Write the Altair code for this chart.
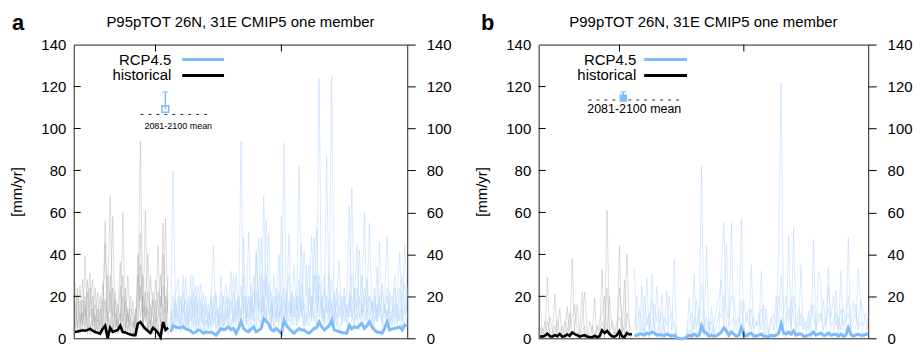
import altair as alt
import pandas as pd

# ---------------- data ----------------
YEARS_HIST = list(range(1968, 2006))
YEARS_RCP = list(range(2006, 2101))
X_TICKS = [2000, 2050, 2100]
TOP_TICKS = [2000, 2050]
Y_TICKS = [0, 20, 40, 60, 80, 100, 120, 140]
INNER_Y_TICKS = [20, 40, 60, 80, 100, 120]

# Panel a: P95pTOT, historical members (1968-2005)
A_HIST_MEMBERS = [
    [27, 5, 12, 3, 39, 8, 2, 14, 6, 22, 1, 9, 56, 3, 10, 4, 18, 2, 7, 60,
     5, 12, 3, 1, 8, 20, 94, 6, 15, 3, 9, 2, 18, 5, 2, 55, 8, 4],
    [10, 24, 4, 18, 6, 15, 31, 3, 11, 2, 14, 5, 8, 20, 68, 7, 3, 12, 36, 9,
     2, 30, 6, 18, 3, 11, 25, 8, 61, 4, 30, 12, 3, 44, 6, 10, 57, 2],
    [4, 12, 25, 7, 20, 2, 16, 28, 3, 9, 6, 18, 2, 30, 12, 58, 5, 9, 3, 20,
     14, 4, 10, 2, 14, 5, 35, 12, 18, 40, 4, 22, 8, 10, 30, 6, 20, 12],
    [18, 8, 3, 28, 10, 22, 5, 9, 24, 4, 8, 26, 14, 2, 30, 10, 22, 6, 12, 4,
     24, 8, 14, 12, 2, 30, 10, 20, 8, 22, 12, 6, 28, 14, 8, 25, 12, 30],
    [2, 20, 8, 12, 4, 28, 10, 20, 2, 14, 3, 10, 45, 8, 22, 3, 12, 4, 25, 8,
     18, 2, 20, 5, 10, 16, 50, 4, 22, 2, 16, 10, 4, 22, 15, 40, 5, 18],
    [12, 3, 18, 6, 15, 4, 24, 6, 16, 8, 20, 4, 18, 10, 5, 24, 6, 16, 8, 30,
     3, 14, 2, 8, 4, 40, 18, 30, 10, 14, 6, 18, 12, 2, 20, 14, 4, 22],
]
A_HIST_MEAN = [3.0, 3.2, 3.5, 3.8, 3.6, 4.0, 4.5, 3.6, 3.0, 2.6,
               2.2, 4.5, 6.0, 0.0, 5.0, 3.0, 3.5, 4.0, 6.0, 3.0,
               2.8, 2.2, 1.8, 1.5, 1.5, 7.0, 7.8, 6.0, 4.5, 3.5,
               2.5, 5.0, 4.0, 2.5, 0.5, 7.8, 4.0, 5.0]

# Panel a: RCP4.5 members (2006-2100)
A_RCP_MEMBERS = [
    [5, 80, 8, 12, 3, 30, 6, 10, 2, 18, 4, 12, 26, 3, 9, 5, 14, 44, 6, 2,
     12, 4, 20, 8, 3, 14, 6, 10, 94, 8, 12, 4, 20, 6, 40, 10, 6, 68, 12, 5,
     18, 3, 10, 22, 6, 93, 10, 4, 16, 6, 10, 82, 14, 3, 12, 6, 20, 8, 10, 124,
     8, 14, 4, 20, 125, 6, 12, 3, 10, 20, 6, 14, 72, 8, 12, 4, 18, 60, 6, 10,
     4, 16, 8, 46, 10, 3, 14, 6, 12, 30, 6, 12, 4, 45, 20],
    [14, 6, 22, 28, 8, 4, 29, 6, 30, 5, 20, 8, 4, 22, 10, 16, 4, 12, 20, 6,
     30, 10, 4, 18, 32, 6, 18, 12, 8, 48, 6, 51, 10, 14, 6, 22, 48, 10, 57, 14,
     6, 30, 12, 6, 58, 18, 8, 50, 10, 20, 6, 16, 45, 10, 6, 18, 49, 12, 6, 30,
     18, 6, 87, 10, 18, 8, 20, 37, 6, 14, 20, 63, 8, 14, 45, 10, 6, 20, 12, 55,
     10, 6, 34, 12, 8, 20, 49, 10, 6, 14, 20, 41, 10, 6, 22],
    [8, 20, 4, 14, 18, 6, 10, 20, 8, 30, 10, 25, 14, 6, 16, 4, 20, 8, 10, 14,
     6, 18, 26, 10, 20, 30, 8, 14, 25, 12, 20, 10, 26, 8, 42, 16, 12, 28, 20, 50,
     10, 20, 8, 40, 14, 24, 8, 18, 12, 35, 14, 28, 10, 42, 20, 35, 10, 48, 18, 26,
     12, 30, 14, 8, 28, 16, 10, 22, 14, 8, 16, 10, 30, 20, 14, 42, 10, 24, 16, 20,
     14, 24, 10, 18, 26, 12, 20, 14, 8, 24, 10, 18, 30, 12, 16],
    [3, 12, 18, 6, 10, 22, 4, 16, 12, 6, 8, 4, 18, 10, 2, 12, 6, 20, 4, 10,
     16, 6, 10, 20, 6, 12, 30, 6, 14, 20, 8, 18, 6, 30, 14, 48, 10, 20, 8, 18,
     22, 6, 14, 8, 20, 10, 16, 30, 6, 12, 20, 8, 18, 6, 35, 10, 16, 22, 52, 10,
     20, 8, 16, 30, 10, 22, 6, 14, 18, 10, 8, 22, 12, 6, 18, 16, 30, 8, 14, 10,
     18, 8, 14, 20, 6, 16, 10, 22, 14, 6, 16, 8, 20, 26, 10],
    [10, 4, 16, 8, 20, 12, 18, 4, 20, 10, 25, 6, 12, 16, 6, 10, 18, 6, 14, 8,
     10, 20, 8, 14, 12, 22, 10, 18, 6, 16, 14, 8, 16, 22, 12, 8, 30, 14, 10, 26,
     8, 16, 20, 10, 14, 8, 22, 12, 18, 10, 16, 10, 26, 14, 8, 20, 14, 10, 30, 14,
     10, 24, 12, 18, 8, 14, 24, 10, 20, 16, 12, 18, 10, 24, 8, 20, 12, 16, 28, 12,
     8, 18, 14, 10, 22, 14, 8, 16, 20, 10, 14, 24, 8, 14, 18],
    [6, 14, 10, 20, 4, 16, 8, 12, 14, 22, 6, 18, 8, 12, 20, 6, 10, 14, 22, 4,
     22, 8, 14, 6, 18, 8, 12, 20, 10, 30, 10, 20, 12, 16, 22, 14, 18, 8, 30, 12,
     16, 10, 24, 12, 10, 18, 14, 8, 22, 14, 8, 20, 12, 16, 14, 24, 8, 30, 12, 20,
     14, 10, 20, 12, 16, 8, 18, 12, 10, 24, 10, 14, 20, 12, 24, 10, 16, 14, 8, 20,
     12, 20, 8, 16, 12, 10, 24, 8, 14, 16, 8, 14, 12, 18, 24],
]
A_RCP_MEAN = [3.0, 6.0, 5.5, 5.0, 5.2, 5.5, 4.5, 4.0, 3.5, 2.5,
              3.0, 4.0, 3.5, 2.4, 3.0, 2.8, 3.0, 2.5, 1.5, 3.0,
              4.7, 4.0, 4.5, 5.5, 4.2, 4.7, 2.4, 5.0, 8.0, 4.7,
              3.5, 3.1, 4.5, 5.5, 3.1, 3.8, 4.7, 9.4, 8.0, 7.0,
              4.0, 3.5, 4.7, 3.5, 2.4, 8.6, 6.0, 4.7, 3.5, 2.4,
              3.5, 4.7, 4.0, 4.0, 3.0, 2.4, 3.5, 4.7, 5.0, 7.8,
              5.5, 4.0, 5.0, 6.0, 8.6, 4.0, 3.5, 3.1, 2.8, 2.6,
              2.4, 6.3, 4.5, 5.5, 5.0, 6.0, 7.0, 4.7, 6.0, 7.8,
              5.5, 4.0, 3.0, 2.8, 2.4, 5.0, 7.8, 4.0, 4.5, 4.7,
              5.0, 5.5, 4.0, 6.3, 6.0]

# Panel b: P99pTOT
B_HIST_MEMBERS = [
    [20, 0, 2, 29, 0, 1, 21, 0, 3, 0, 2, 15, 0, 38, 1, 0, 4, 22, 0, 1,
     0, 2, 19, 0, 1, 33, 0, 61, 2, 0, 3, 1, 44, 0, 28, 1, 0, 2],
    [2, 5, 0, 8, 3, 0, 6, 2, 14, 0, 8, 2, 6, 10, 16, 3, 0, 8, 22, 4,
     0, 6, 2, 3, 8, 12, 20, 4, 20, 6, 2, 8, 10, 3, 6, 40, 4, 1],
    [6, 1, 8, 2, 10, 4, 1, 9, 2, 6, 0, 4, 12, 2, 5, 16, 1, 3, 6, 0,
     8, 3, 0, 6, 2, 8, 4, 24, 1, 8, 4, 2, 24, 8, 2, 12, 6, 4],
]
B_HIST_MEAN = [1.0, 0.8, 1.2, 2.2, 1.0, 0.8, 1.5, 1.0, 2.0, 0.8,
               1.0, 1.8, 1.2, 2.8, 2.0, 1.5, 0.8, 1.2, 1.5, 0.8,
               0.6, 0.5, 1.2, 0.6, 1.0, 3.8, 2.5, 3.5, 2.0, 1.0,
               0.8, 1.5, 3.5, 1.0, 0.5, 2.5, 1.8, 2.0]
B_RCP_MEMBERS = [
    [33, 2, 0, 25, 1, 29, 0, 31, 2, 25, 0, 21, 1, 23, 0, 2, 38, 0, 0, 0,
     0, 0, 19, 1, 31, 0, 2, 82, 1, 44, 0, 15, 2, 0, 3, 36, 55, 1, 0, 55,
     2, 0, 1, 57, 0, 3, 0, 35, 1, 0, 2, 32, 0, 14, 1, 0, 2, 3, 43, 122,
     1, 0, 49, 2, 53, 0, 1, 35, 0, 2, 13, 0, 47, 1, 32, 27, 0, 2, 34, 0,
     1, 23, 0, 32, 2, 0, 48, 1, 0, 3, 33, 15, 0, 2, 11],
    [4, 20, 8, 2, 20, 6, 12, 3, 16, 8, 14, 2, 10, 6, 20, 4, 8, 0, 0, 0,
     0, 2, 8, 12, 4, 18, 6, 26, 10, 4, 8, 2, 6, 14, 20, 28, 6, 45, 10, 20,
     20, 6, 10, 4, 18, 8, 14, 4, 10, 6, 12, 4, 16, 6, 2, 10, 4, 20, 8, 30,
     12, 20, 8, 18, 10, 4, 14, 6, 10, 4, 6, 16, 10, 4, 12, 8, 18, 6, 25, 10,
     20, 6, 10, 4, 14, 8, 12, 6, 18, 10, 6, 18, 13, 8, 4],
    [10, 4, 14, 6, 2, 10, 4, 18, 6, 2, 8, 12, 4, 2, 10, 12, 6, 0, 0, 0,
     0, 1, 4, 2, 10, 6, 14, 12, 4, 10, 4, 8, 2, 6, 12, 10, 20, 16, 6, 8,
     10, 4, 6, 18, 2, 12, 6, 14, 4, 8, 6, 14, 8, 2, 4, 8, 12, 6, 20, 14,
     6, 10, 14, 6, 20, 8, 6, 12, 4, 8, 4, 10, 16, 6, 8, 12, 4, 10, 14, 6,
     8, 12, 4, 14, 6, 10, 20, 4, 8, 16, 4, 8, 6, 12, 8],
]
B_RCP_MEAN = [1.0, 1.5, 2.0, 2.0, 1.5, 2.5, 2.0, 3.0, 2.5, 1.5,
              1.8, 1.5, 1.2, 2.0, 1.5, 1.0, 1.5, 0.2, 0.0, -0.3,
              0.0, 0.5, 1.5, 1.0, 2.0, 1.2, 1.5, 6.0, 3.0, 2.5,
              1.0, 1.5, 1.0, 1.2, 2.0, 3.0, 5.0, 3.5, 1.5, 3.0,
              2.0, 1.0, 1.5, 5.0, 1.5, 1.2, 2.0, 2.5, 1.0, 1.2,
              1.5, 2.0, 1.0, 1.0, 0.8, 1.5, 1.0, 1.5, 2.5, 7.0,
              2.5, 2.0, 3.0, 2.0, 3.5, 1.5, 2.0, 2.0, 1.0, 1.0,
              1.5, 2.0, 3.0, 1.5, 2.0, 2.5, 1.5, 1.5, 2.5, 1.5,
              1.8, 2.0, 1.0, 2.0, 1.0, 1.5, 5.0, 2.0, 1.0, 1.5,
              2.0, 1.5, 1.5, 1.8, 2.0]

# 2081-2100 mean annotation (y values in mm/yr)
A_MARK = {"ref": 106.7, "mean": 109.3, "lo": 109.3, "hi": 117.4}
B_MARK = {"ref": 113.6, "mean": 114.5, "lo": 113.0, "hi": 117.4}
LEGEND_LABELS = ["RCP4.5", "historical"]
TITLES = ["P95pTOT 26N, 31E CMIP5 one member", "P99pTOT 26N, 31E CMIP5 one member"]
LETTERS = ["a", "b"]
MARK_LABEL = "2081-2100 mean"

# ---------------- styling ----------------
FONT = "Liberation Sans"
H = 295
GREY_THIN = "#8c8c8c"
BLUE_THIN = "#a9d0fa"
BLUE = "#7dbcf8"
BLACK = "#000000"


def long_df(years, members, tag):
    rows = []
    for i, m in enumerate(members):
        if len(m) != len(years):
            raise ValueError(f"{tag}{i} has {len(m)} values")
        rows += [{"year": y, "value": v, "member": f"{tag}{i}"} for y, v in zip(years, m)]
    return pd.DataFrame(rows)


def mean_df(years, vals):
    if len(vals) != len(years):
        raise ValueError("mean length")
    return pd.DataFrame({"year": years, "value": vals})


def panel(width, letter, title, hm, hmean, rm, rmean, mk, mk_geom):
    xs = alt.Scale(domain=[1967.5, 2100], nice=False, zero=False)
    ys = alt.Scale(domain=[0, 140], nice=False, zero=False)
    x_axis = alt.Axis(values=X_TICKS, ticks=False, grid=False, domain=False, title=None,
                      labelFontSize=15, labelPadding=7, labelFlush=False, format="d")
    left_axis = alt.Axis(values=Y_TICKS, ticks=False, grid=False, domain=False,
                         title="[mm/yr]", titleFontSize=15, titleFontWeight="normal",
                         titlePadding=16, labelFontSize=15, labelPadding=8, orient="left",
                         format="d")
    right_axis = alt.Axis(values=Y_TICKS, ticks=True, tickSize=8, tickColor="#000",
                          tickWidth=1, grid=False, domain=False, title=None,
                          labelFontSize=15, labelPadding=11, orient="right", format="d")

    def X(axis=None):
        return alt.X("year:Q", scale=xs, axis=axis)

    def Y(axis=None):
        return alt.Y("value:Q", scale=ys, axis=axis)

    layers = []
    layers.append(alt.Chart(long_df(YEARS_HIST, hm, "h")).mark_line(
        color=GREY_THIN, strokeWidth=0.7, opacity=0.42).encode(
        x=X(x_axis), y=Y(left_axis), detail="member:N"))
    layers.append(alt.Chart(long_df(YEARS_RCP, rm, "r")).mark_line(
        color=BLUE_THIN, strokeWidth=0.7, opacity=0.6).encode(
        x=X(), y=Y(), detail="member:N"))
    layers.append(alt.Chart(mean_df(YEARS_HIST, hmean)).mark_line(
        color=BLACK, strokeWidth=2.6).encode(x=X(), y=Y()))
    layers.append(alt.Chart(mean_df(YEARS_RCP, rmean)).mark_line(
        color=BLUE, strokeWidth=3).encode(x=X(), y=Y(right_axis)))

    # inward ticks on left, top and bottom frame
    layers.append(alt.Chart(pd.DataFrame({"value": INNER_Y_TICKS})).mark_rule(
        color="#000", strokeWidth=1).encode(y=Y(), x=alt.value(0), x2=alt.value(7)))
    layers.append(alt.Chart(pd.DataFrame({"year": TOP_TICKS})).mark_rule(
        color="#000", strokeWidth=1).encode(x=X(), y=alt.value(0), y2=alt.value(7)))
    layers.append(alt.Chart(pd.DataFrame({"year": TOP_TICKS})).mark_rule(
        color="#000", strokeWidth=1).encode(x=X(), y=alt.value(H), y2=alt.value(H - 7)))

    # legend (labels left of line samples)
    for lab, col, ly in zip(LEGEND_LABELS, [BLUE, BLACK], [15, 31]):
        d = pd.DataFrame({"t": [lab]})
        layers.append(alt.Chart(d).mark_text(
            align="right", baseline="middle", fontSize=15, font=FONT, color="#000").encode(
            text="t:N", x=alt.value(98), y=alt.value(ly)))
        layers.append(alt.Chart(d).mark_rule(color=col, strokeWidth=3).encode(
            x=alt.value(mk_geom["leg_x1"]), x2=alt.value(mk_geom["leg_x2"]), y=alt.value(ly)))

    # 2081-2100 mean annotation
    layers.append(alt.Chart(pd.DataFrame({"value": [mk["ref"]]})).mark_rule(
        color="#333", strokeWidth=1, strokeDash=[3, 5]).encode(
        y=Y(), x=alt.value(mk_geom["ref_x1"]), x2=alt.value(mk_geom["ref_x2"])))
    layers.append(alt.Chart(pd.DataFrame({"value": [mk["lo"]], "v2": [mk["hi"]]})).mark_rule(
        color=BLUE, strokeWidth=1.5).encode(
        y=Y(), y2="v2:Q", x=alt.value(mk_geom["mx"])))
    layers.append(alt.Chart(pd.DataFrame({"value": [mk["hi"]]})).mark_tick(
        color=BLUE, size=6, thickness=1.5, orient="horizontal").encode(
        y=Y(), x=alt.value(mk_geom["mx"])))
    layers.append(alt.Chart(pd.DataFrame({"value": [mk["mean"]]})).mark_point(
        shape="square", filled=mk_geom["filled"], size=mk_geom["msize"], color=BLUE,
        strokeWidth=1.5, opacity=1).encode(y=Y(), x=alt.value(mk_geom["mx"])))
    layers.append(alt.Chart(pd.DataFrame({"t": [MARK_LABEL]})).mark_text(
        align="center", baseline="middle", fontSize=mk_geom["tsize"], font=FONT,
        color="#000").encode(text="t:N", x=alt.value(mk_geom["tx"]), y=alt.value(mk_geom["ty"])))

    # panel letter and title
    layers.append(alt.Chart(pd.DataFrame({"t": [letter]})).mark_text(
        align="left", baseline="alphabetic", fontSize=22, fontWeight="bold", font=FONT,
        color="#000").encode(text="t:N", x=alt.value(mk_geom["letter_x"]), y=alt.value(-15)))
    layers.append(alt.Chart(pd.DataFrame({"t": [title]})).mark_text(
        align="center", baseline="alphabetic", fontSize=15, font=FONT,
        color="#000").encode(text="t:N", x=alt.value(width / 2), y=alt.value(-18)))

    return alt.layer(*layers).resolve_axis(y="independent").properties(width=width, height=H)


GEOM_A = {"leg_x1": 109, "leg_x2": 151, "ref_x1": 67, "ref_x2": 138, "mx": 92,
          "filled": False, "msize": 45, "tsize": 9, "tx": 105, "ty": 82, "letter_x": -62}
GEOM_B = {"leg_x1": 106, "leg_x2": 149, "ref_x1": 50, "ref_x2": 145, "mx": 85,
          "filled": True, "msize": 55, "tsize": 12.5, "tx": 96, "ty": 65, "letter_x": -58}

pa = panel(335, LETTERS[0], TITLES[0], A_HIST_MEMBERS, A_HIST_MEAN, A_RCP_MEMBERS,
           A_RCP_MEAN, A_MARK, GEOM_A)
pb = panel(331, LETTERS[1], TITLES[1], B_HIST_MEMBERS, B_HIST_MEAN, B_RCP_MEMBERS,
           B_RCP_MEAN, B_MARK, GEOM_B)

chart = alt.hconcat(pa, pb, spacing=132, bounds="flush").properties(
    padding={"left": 1, "top": 2, "right": 0, "bottom": 0}
).configure(font=FONT).configure_view(stroke="#222", strokeWidth=1).configure_axis(
    labelFont=FONT, titleFont=FONT, labelColor="#000", titleColor="#000")

chart.save("out.html", embed_options={"renderer": "svg", "actions": False})
